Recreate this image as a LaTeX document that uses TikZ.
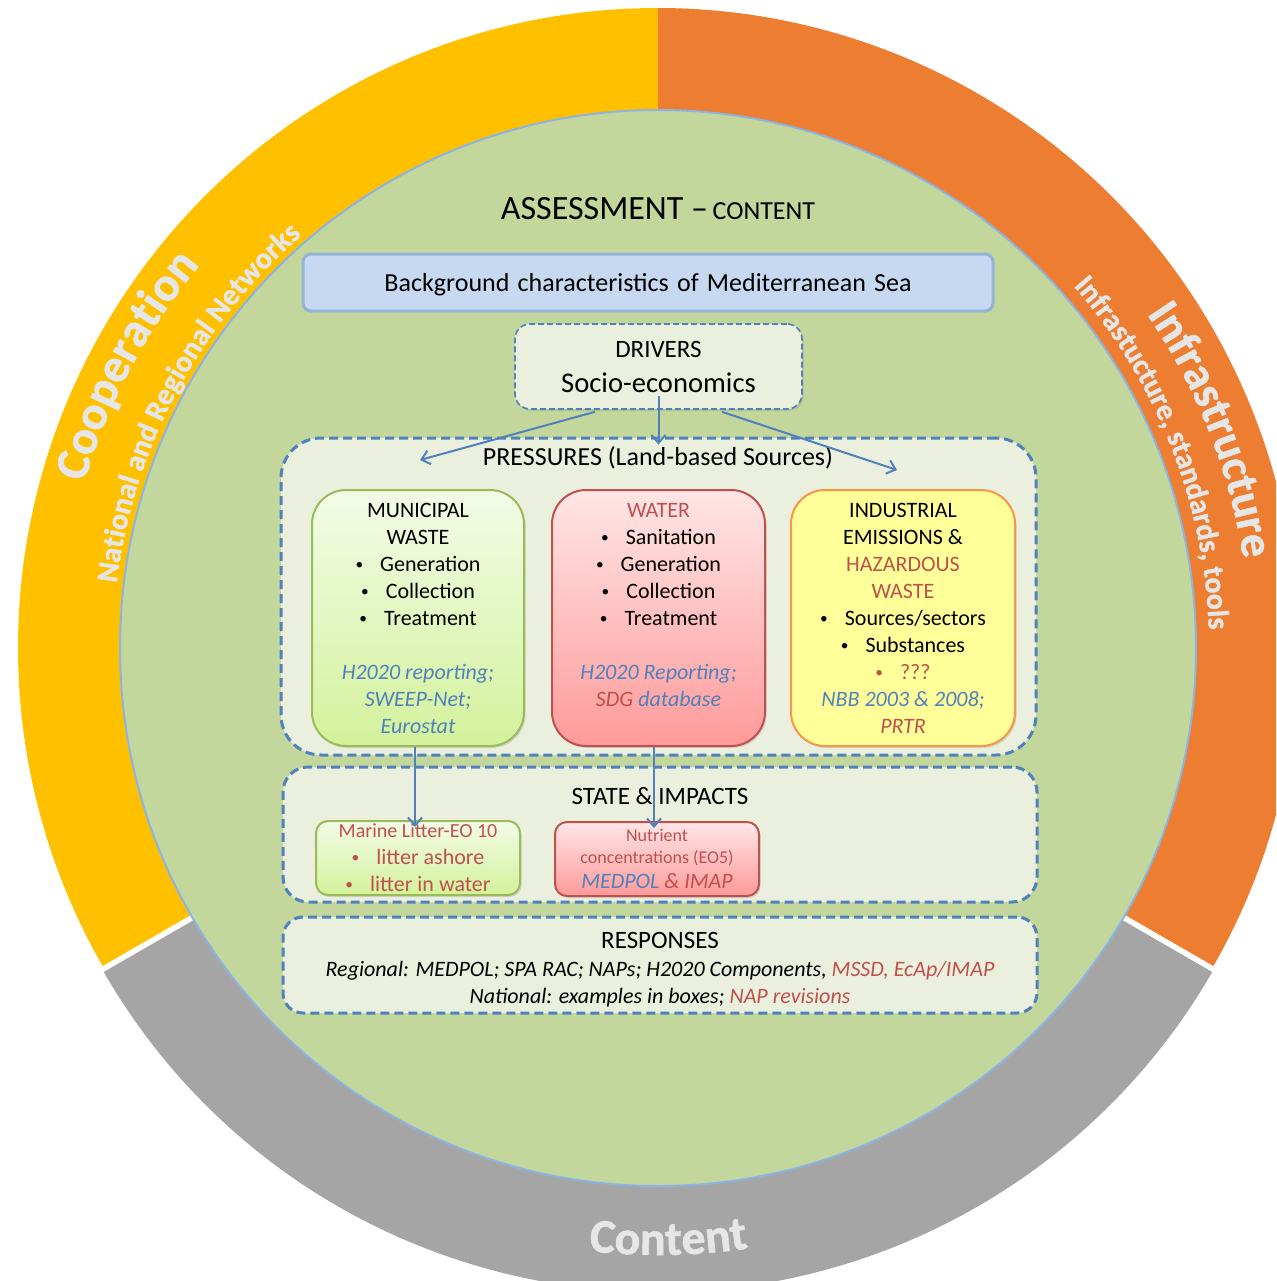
\documentclass[tikz,border=0pt]{standalone}
\usepackage{fontspec}
\setmainfont{Carlito}
\newfontfamily\ringfont{Carlito}[BoldFeatures={FakeBold=1.2}]
\usetikzlibrary{decorations.text,shadows,arrows.meta}
\definecolor{ringY}{HTML}{FFC000}
\definecolor{ringO}{HTML}{ED7D31}
\definecolor{ringG}{HTML}{A5A5A5}
\definecolor{innerG}{HTML}{C3D69B}
\definecolor{circB}{HTML}{8DB3E2}
\definecolor{panel}{HTML}{EBF0DE}
\definecolor{dashB}{HTML}{4F81BD}
\definecolor{txtB}{HTML}{4F81BD}
\definecolor{txtR}{HTML}{C0504D}
\definecolor{bgF}{HTML}{C6D9F1}
\definecolor{bgD}{HTML}{95B3D7}
\definecolor{grnTop}{HTML}{F3FBE7}
\definecolor{grnBot}{HTML}{D3F29B}
\definecolor{grnD}{HTML}{9BBB59}
\definecolor{redTop}{HTML}{FFE6E6}
\definecolor{redBot}{HTML}{FF9A9A}
\definecolor{redD}{HTML}{C0504D}
\definecolor{yelF}{HTML}{FFFF99}
\definecolor{yelD}{HTML}{F79646}
\definecolor{ringtxt}{HTML}{E6E6E6}
\newcommand{\bul}{\raisebox{0.8pt}{\scalebox{0.7}{\textbullet}}\hspace{8.5pt}}
\begin{document}
\begin{tikzpicture}[x=0.5pt,y=-0.5pt,
  panelbox/.style={draw=dashB, fill=panel, line width=1.5pt, dash pattern=on 4.5pt off 2.5pt, rounded corners=#1, inner sep=0pt},
  shad/.style={drop shadow={opacity=0.25,shadow xshift=0.8pt,shadow yshift=-1pt}},
  grnbox/.style={draw=grnD, line width=1pt, top color=grnTop, bottom color=grnBot, rounded corners=#1, inner sep=0pt, shad},
  redbox/.style={draw=redD, line width=1pt, top color=redTop, bottom color=redBot, rounded corners=#1, inner sep=0pt, shad},
  yelbox/.style={draw=yelD, line width=1pt, fill=yelF, rounded corners=#1, inner sep=0pt, shad},
  lbl/.style={inner sep=0pt, anchor=base},
  blk/.style={inner sep=0pt, anchor=north, align=center, font=\fontsize{11}{13.5}\selectfont},
  conn/.style={draw=dashB, line width=1pt, -{Straight Barb[length=4pt,width=7pt]}}
]
\useasboundingbox (0,0) rectangle (1276,1281);
\clip (0,0) rectangle (1276,1281);
% ---------------- outer ring ----------------
\begin{scope}[y=0.5pt, shift={(658,-648)}]
  \fill[ringY] (0,0) -- (90:640) arc[start angle=90,end angle=210,radius=640] -- cycle;
  \fill[ringO] (0,0) -- (-30:640) arc[start angle=-30,end angle=90,radius=640] -- cycle;
  \begin{scope}[shift={(0,-4)}]
    \fill[ringG] (0,0) -- (210:640) arc[start angle=210,end angle=330,radius=640] -- cycle;
  \end{scope}
  \draw[white, line width=2.2pt] (0,0) -- (210:660);
  \draw[white, line width=2.2pt] (0,0) -- (330:660);
  \filldraw[fill=innerG, draw=circB, line width=1pt] (0,0) circle[radius=538];
  % ring texts
  \path[decorate, decoration={text along path, text align=center,
     text={|\ringfont\bfseries\fontsize{24}{24}\selectfont\color{ringtxt}|Cooperation}}]
     (192:597) arc[start angle=192, end angle=112, radius=597];
  \path[decorate, decoration={text along path, text align=center,
     text={|\ringfont\bfseries\fontsize{15}{15}\selectfont\color{ringtxt}|National and Regional Networks}}]
     (195:545) arc[start angle=195, end angle=109, radius=545];
  \path[decorate, decoration={text along path, text align=center,
     text={|\ringfont\bfseries\fontsize{23}{23}\selectfont\color{ringtxt}|Infrastructure}}]
     (61.5:592) arc[start angle=61.5, end angle=-18.5, radius=592];
  \path[decorate, decoration={text along path, text align=center,
     text={|\ringfont\bfseries\fontsize{15}{15}\selectfont\color{ringtxt}|Infrastucture, standards, tools}}]
     (64.5:551) arc[start angle=64.5, end angle=-21.5, radius=551];
  \path[decorate, decoration={text along path, text align=center,
     text={|\ringfont\bfseries\fontsize{24}{24}\selectfont\color{ringtxt}|Content}}]
     (231:607) arc[start angle=231, end angle=311, radius=607];
\end{scope}
% ---------------- title & background ----------------
\node[lbl] (title) at (658,219) {{\fontsize{17}{20}\selectfont ASSESSMENT –} {\fontsize{13}{16}\selectfont CONTENT}};
\node[draw=bgD, fill=bgF, line width=1.5pt, rounded corners=4pt, minimum width=345pt, minimum height=28.5pt, inner sep=0pt] (bg) at (648,282.5) {};
\node[lbl] (bgT) at (648,291) {\fontsize{13}{16}\selectfont Background\hspace{1.2pt} characteristics\hspace{1.2pt} of\hspace{1.2pt} Mediterranean\hspace{1.2pt} Sea};
% ---------------- drivers ----------------
\node[draw=dashB, fill=panel, line width=0.8pt, dash pattern=on 3pt off 1.5pt, rounded corners=7.5pt, minimum width=143.5pt, minimum height=42.5pt, inner sep=0pt, shad] (drv) at (658.5,366.5) {};
\node[lbl] (drvT1) at (658.5,357) {\fontsize{12.5}{15}\selectfont DRIVERS};
\node[lbl] (drvT2) at (658.5,392) {\fontsize{14.3}{17}\selectfont Socio-economics};
% ---------------- pressures ----------------
\node[panelbox=20pt, minimum width=377.5pt, minimum height=158.5pt] (pres) at (658.5,596.5) {};
\node[lbl] (presT) at (658,465) {\fontsize{13}{16}\selectfont PRESSURES (Land-based Sources)};
\node[grnbox=17pt, minimum width=106pt, minimum height=128pt] (mun) at (418,618) {};
\node[redbox=17pt, minimum width=106.5pt, minimum height=128pt] (wat) at (658.5,618) {};
\node[yelbox=17pt, minimum width=112pt, minimum height=128pt] (ind) at (903,618) {};
\node[blk] (munT) at (418,497) {\rule{0pt}{10pt}MUNICIPAL\\ WASTE\\ \bul Generation\\ \bul Collection\\ \bul Treatment\\ \mbox{}\\ \textcolor{txtB}{\itshape H2020 reporting;}\\ \textcolor{txtB}{\itshape SWEEP-Net;}\\ \textcolor{txtB}{\itshape Eurostat}};
\node[blk] (watT) at (658.5,497) {\rule{0pt}{10pt}\textcolor{txtR}{WATER}\\ \bul Sanitation\\ \bul Generation\\ \bul Collection\\ \bul Treatment\\ \mbox{}\\ \textcolor{txtB}{\itshape H2020 Reporting;}\\ {\itshape\textcolor{txtR}{SDG} \textcolor{txtB}{database}}};
\node[blk] (indT) at (903,497) {\rule{0pt}{10pt}INDUSTRIAL\\ EMISSIONS \&\\ \textcolor{txtR}{HAZARDOUS}\\ \textcolor{txtR}{WASTE}\\ \bul Sources/sectors\\ \bul Substances\\ \textcolor{txtR}{\bul ???}\\ \textcolor{txtB}{\itshape NBB 2003 \& 2008;}\\ \textcolor{txtR}{\itshape PRTR}};
% ---------------- state & impacts ----------------
\node[panelbox=12.5pt, minimum width=377pt, minimum height=67.5pt] (state) at (660,834.5) {};
\node[lbl] (stateT) at (660,804) {\fontsize{12.5}{15}\selectfont STATE \& IMPACTS};
\node[grnbox=6pt, minimum width=102pt, minimum height=37pt] (lit) at (418,858) {};
\node[redbox=6pt, minimum width=102pt, minimum height=37pt] (nut) at (657,859) {};
\node[lbl] (litT1) at (418,837) {\fontsize{10}{12}\selectfont\color{txtR}Marine Litter-EO 10};
\node[lbl] (litT2) at (418,864) {\fontsize{11}{13}\selectfont\color{txtR}\bul litter ashore};
\node[lbl] (litT3) at (418,891) {\fontsize{11}{13}\selectfont\color{txtR}\bul litter in water};
\node[lbl] (nutT1) at (657,841) {\fontsize{9}{11}\selectfont\color{txtR}Nutrient};
\node[lbl] (nutT2) at (657,863) {\fontsize{9}{11}\selectfont\color{txtR}concentrations (EO5)};
\node[lbl] (nutT3) at (657,888) {\fontsize{11}{13}\selectfont\itshape\textcolor{txtB}{MEDPOL} \textcolor{txtR}{\& IMAP}};
% ---------------- responses ----------------
\node[panelbox=10pt, minimum width=377pt, minimum height=48pt] (resp) at (660,965) {};
\node[lbl] (respT) at (660,948) {\fontsize{12.5}{15}\selectfont RESPONSES};
\node[lbl] (respT2) at (660,976) {\fontsize{11}{13}\selectfont\itshape Regional: MEDPOL; SPA RAC; NAPs; H2020 Components, \textcolor{txtR}{MSSD, EcAp/IMAP}};
\node[lbl] (respT3) at (660,1003) {\fontsize{11}{13}\selectfont\itshape National: examples in boxes; \textcolor{txtR}{NAP revisions}};
% ---------------- connectors ----------------
\coordinate (pl) at (420,460);
\coordinate (pr) at (897,470);
\draw[conn] ([yshift=7pt]drv.south) -- ([yshift=-4pt]pres.north);
\draw[conn] ([xshift=-31.75pt,yshift=-1pt]drv.south) -- (pl);
\draw[conn] ([xshift=31.75pt,yshift=-1pt]drv.south) -- (pr);
\draw[conn] ([xshift=-1.5pt]mun.south) -- ([xshift=-1.5pt,yshift=-3.5pt]lit.north);
\draw[conn] ([xshift=-2.25pt]wat.south) -- ([xshift=-1.5pt,yshift=-3.5pt]nut.north);
\end{tikzpicture}
\end{document}
